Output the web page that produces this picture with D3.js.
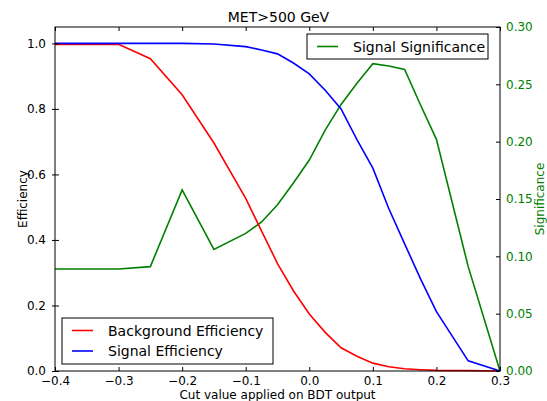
<!DOCTYPE html>
<html>
<head>
<meta charset="utf-8">
<script src="https://cdn.jsdelivr.net/npm/d3@7"></script>
<style>
  body { margin: 0; background: #fff; }
  svg { display: block; font-family: "DejaVu Sans", sans-serif; }
</style>
</head>
<body>
<svg id="chart" width="547" height="401"></svg>
<script>
// cut values on the BDT output
const cuts = [-0.4, -0.3, -0.25, -0.2, -0.15, -0.1, -0.075, -0.05, -0.025, 0,
  0.025, 0.05, 0.075, 0.1, 0.125, 0.15, 0.175, 0.2, 0.25, 0.3];
const bkgEff = [0.997, 0.997, 0.953, 0.843, 0.696, 0.527, 0.427, 0.328, 0.245, 0.174,
  0.118, 0.071, 0.045, 0.024, 0.013, 0.007, 0.004, 0.002, 0.001, 0];
const sigEff = [1.0, 1.0, 1.0, 1.0, 0.998, 0.99, 0.98, 0.968, 0.94, 0.907,
  0.857, 0.80, 0.706, 0.619, 0.496, 0.388, 0.281, 0.181, 0.031, 0];
const significance = [0.089, 0.089, 0.091, 0.158, 0.106, 0.120, 0.130, 0.145, 0.164, 0.184,
  0.210, 0.2325, 0.251, 0.268, 0.266, 0.263, 0.232, 0.202, 0.091, 0];

const xTicks = [-0.4, -0.3, -0.2, -0.1, 0.0, 0.1, 0.2, 0.3];
const yTicks = [0.0, 0.2, 0.4, 0.6, 0.8, 1.0];
const y2Ticks = [0.0, 0.05, 0.10, 0.15, 0.20, 0.25, 0.30];

const margin = { left: 55, right: 47, top: 27, bottom: 30 };
const width = 547, height = 401;
const svg = d3.select('#chart');

const x = d3.scaleLinear().domain([-0.4, 0.3]).range([margin.left, width - margin.right]);
const y = d3.scaleLinear().domain([0, 1.05]).range([height - margin.bottom, margin.top]);
const y2 = d3.scaleLinear().domain([0, 0.3]).range([height - margin.bottom, margin.top]);

const fmt1 = d => d3.format('.1f')(d).replace('-', '\u2212');
const fmt2 = d3.format('.2f');

const lineOf = (vals, sc) => d3.line()
  .x((d, i) => x(cuts[i]))
  .y(d => sc(d))(vals);

const plot = svg.append('g');
plot.append('path').attr('d', lineOf(significance, y2))
  .attr('fill', 'none').attr('stroke', '#008000').attr('stroke-width', 1.6);
plot.append('path').attr('d', lineOf(bkgEff, y))
  .attr('fill', 'none').attr('stroke', '#ff0000').attr('stroke-width', 1.6);
plot.append('path').attr('d', lineOf(sigEff, y))
  .attr('fill', 'none').attr('stroke', '#0000ff').attr('stroke-width', 1.6);

// frame
const x0 = margin.left, x1 = width - margin.right;
const yT = margin.top, yB = height - margin.bottom;
svg.append('rect').attr('x', x0).attr('y', yT).attr('width', x1 - x0).attr('height', yB - yT)
  .attr('fill', 'none').attr('stroke', '#000').attr('stroke-width', 1);

// bottom axis
svg.append('g').attr('transform', `translate(0,${yB})`)
  .call(d3.axisBottom(x).tickValues(xTicks).tickFormat(fmt1).tickSize(-4).tickPadding(5));
// top ticks
svg.append('g').attr('transform', `translate(0,${yT})`)
  .call(d3.axisTop(x).tickValues(xTicks).tickFormat('').tickSize(-4));
// left axis
svg.append('g').attr('transform', `translate(${x0},0)`)
  .call(d3.axisLeft(y).tickValues(yTicks).tickFormat(fmt1).tickSize(3).tickPadding(6));
svg.append('g').attr('transform', `translate(${x0},0)`)
  .call(d3.axisLeft(y).tickValues(yTicks).tickFormat('').tickSize(-4));
// right axis
const gy2 = svg.append('g').attr('transform', `translate(${x1},0)`)
  .call(d3.axisRight(y2).tickValues(y2Ticks).tickFormat(fmt2).tickSize(-4).tickPadding(6));
gy2.selectAll('text').attr('fill', '#008000');

svg.selectAll('.domain').remove();
svg.selectAll('.tick text').style('font-size', '12px').style('font-family', '"DejaVu Sans", sans-serif');
svg.selectAll('.tick line').attr('stroke', '#000');

// titles
svg.append('text').attr('x', (x0 + x1) / 2 + 1).attr('y', 22).attr('text-anchor', 'middle')
  .style('font-size', '14px').text('MET>500 GeV');
svg.append('text').attr('x', (x0 + x1) / 2).attr('y', 399).attr('text-anchor', 'middle')
  .style('font-size', '12px').text('Cut value applied on BDT output');
svg.append('text').attr('transform', `translate(27,${(yT + yB) / 2}) rotate(-90)`)
  .attr('text-anchor', 'middle').style('font-size', '12px').text('Efficiency');
svg.append('text').attr('transform', `translate(544,${(yT + yB) / 2}) rotate(-90)`)
  .attr('text-anchor', 'middle').attr('fill', '#008000').style('font-size', '12px').text('Significance');

// legends
function legend(gx0, gy0, w, h, items) {
  const g = svg.append('g');
  g.append('rect').attr('x', gx0).attr('y', gy0).attr('width', w).attr('height', h)
    .attr('fill', '#fff').attr('stroke', '#000').attr('stroke-width', 1);
  items.forEach((it, i) => {
    const cy = gy0 + 12.5 + i * 20.5;
    g.append('line').attr('x1', gx0 + 10).attr('x2', gx0 + 31).attr('y1', cy).attr('y2', cy)
      .attr('stroke', it.color).attr('stroke-width', 1.6);
    g.append('text').attr('x', gx0 + 46).attr('y', cy + 5).style('font-size', '14px').text(it.label);
  });
}
legend(307, 34, 181, 25, [{ label: 'Signal Significance', color: '#008000' }]);
legend(62, 318, 211, 46, [
  { label: 'Background Efficiency', color: '#ff0000' },
  { label: 'Signal Efficiency', color: '#0000ff' }
]);
</script>
</body>
</html>
